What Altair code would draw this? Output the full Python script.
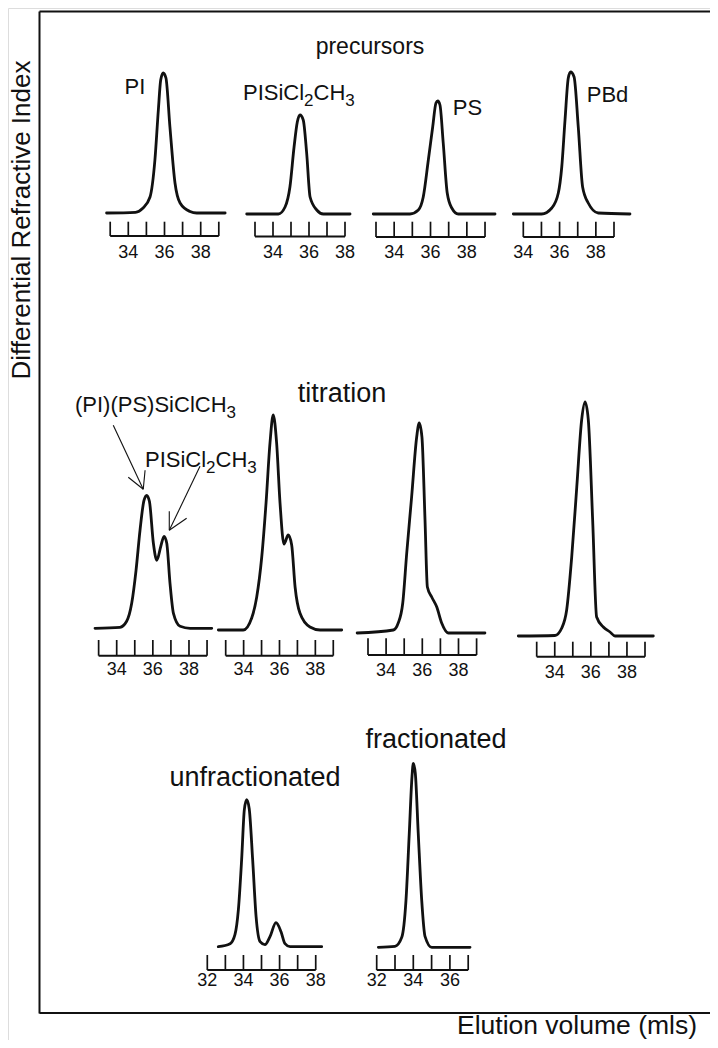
import altair as alt
import pandas as pd

# ---------------- data ----------------
# precursors
PI_ml = [32.8, 34.4, 34.8, 35.2, 35.47, 35.66, 35.79, 35.93, 36.08, 36.3, 36.58, 36.86, 37.41, 37.78, 39.35]
PI_ri = [0, 0.7, 4.7, 16, 53, 103, 133, 140, 135, 86, 30, 10, 1.5, 0, 0]

PIS_ml = [32.54, 34.3, 34.67, 34.94, 35.17, 35.35, 35.5, 35.68, 35.87, 36.06, 36.43, 36.8, 38.28]
PIS_ri = [0, 0, 7, 27, 67, 92, 99, 94, 61, 17, 4, 0, 0]

PS_ml = [32.85, 34.87, 35.33, 35.6, 35.88, 36.12, 36.3, 36.4, 36.52, 36.7, 36.92, 37.17, 37.53, 39.55]
PS_ri = [0, 0, 4, 17, 54, 87, 111, 113, 109, 71, 21, 6, 0, 0]

PBd_ml = [33.45, 35.01, 35.57, 35.93, 36.12, 36.3, 36.48, 36.61, 36.8, 37.03, 37.27, 37.58, 38.13, 39.88]
PBd_ri = [0, 0, 6, 21, 47, 94, 136, 142, 137, 87, 27, 11, 1, 0]

# titration
T1_ml = [32.8, 34.18, 34.55, 34.83, 35.07, 35.29, 35.51, 35.66, 35.81, 36.03, 36.22, 36.44, 36.62, 36.77, 36.95, 37.14, 37.51, 38.06, 39.26]
T1_ri = [0, 1, 7, 25, 58, 98, 128, 133, 127, 85, 68, 82, 92, 85, 45, 15, 2, 0, 0]

T2_ml = [32.59, 33.98, 34.45, 34.73, 35.01, 35.25, 35.47, 35.65, 35.84, 36.03, 36.25, 36.49, 36.68, 36.87, 37.14, 37.7, 38.26, 39.47]
T2_ri = [0, 0, 12, 33, 73, 127, 187, 215, 187, 127, 86, 95, 85, 43, 17, 3, 0, 0]

T3_ml = [32.4, 34.4, 34.67, 34.92, 35.14, 35.41, 35.69, 35.83, 35.98, 36.15, 36.28, 36.52, 36.8, 37.07, 37.44, 39.46]
T3_ri = [0, 3, 10, 30, 80, 136, 196, 210, 196, 113, 46, 36, 26, 10, 0, 0]

T4_ml = [31.98, 34.01, 34.39, 34.66, 34.94, 35.22, 35.49, 35.68, 35.86, 36.1, 36.32, 36.69, 37.06, 37.34, 39.46]
T4_ri = [0, 0.5, 8, 26, 79, 149, 216, 234, 216, 116, 19, 9, 4, 0, 0]

# unfractionated / fractionated
U_ml = [32.61, 33.26, 33.53, 33.72, 33.9, 34.05, 34.18, 34.32, 34.51, 34.7, 34.92, 35.19, 35.47, 35.8, 36.08, 36.3, 36.58, 38.33]
U_ri = [0, 3, 12, 37, 87, 137, 147, 138, 87, 30, 5, 2, 10, 24, 15, 3, 0, 0]

F_ml = [32.09, 33.0, 33.37, 33.6, 33.78, 33.93, 34.0, 34.11, 34.27, 34.46, 34.64, 35.01, 37.1]
F_ri = [0, 1, 10, 47, 114, 171, 184, 174, 114, 47, 11, 0, 0]

# axis ticks and tick labels (ml)
TICKS_33_39 = [33, 34, 35, 36, 37, 38, 39]
TICKS_33_38 = [33, 34, 35, 36, 37, 38]
TICKS_34_39 = [34, 35, 36, 37, 38, 39]
TICKS_32_38 = [32, 33, 34, 35, 36, 37, 38]
TICKS_32_37 = [32, 33, 34, 35, 36, 37]
LABELS_34_38 = [34, 36, 38]
LABELS_32_38 = [32, 34, 36, 38]
LABELS_32_36 = [32, 34, 36]

# text
TITLE_PRE = "precursors"
TITLE_TIT = "titration"
TITLE_UNF = "unfractionated"
TITLE_FRA = "fractionated"
Y_TITLE = "Differential Refractive Index"
X_TITLE = "Elution volume (mls)"
# chemical labels as (text, is_subscript) pieces
CHEM_PISI = [("PISiCl", False), ("2", True), ("CH", False), ("3", True)]
CHEM_PIPS = [("(PI)(PS)SiClCH", False), ("3", True)]

# arrows in the first titration panel (ml, signal): shaft start -> tip, and two wings
ARROW_X = [33.81, 35.47, 34.64, 35.47, 35.57, 35.47, 38.61, 36.91, 36.91, 36.91, 37.87, 36.91]
ARROW_Y = [203, 139, 151, 139, 158, 139, 162, 98, 117, 98, 110, 98]

# ---------------- layout ----------------
M = 8                     # page margin
W, H = 702, 1032
FONT = "Liberation Sans, Arial, Helvetica, sans-serif"
INK = "#111111"
# Helvetica/Arial advance widths (em) for the characters used in chemical labels
ADV = {"P": .667, "I": .278, "S": .667, "i": .222, "C": .722, "l": .222, "H": .722,
       "(": .333, ")": .333, "2": .556, "3": .556}


def panel(ml, ri, ticks, labels, ref_ml, ref_px, ppm, base_y, tick_top, line_y, label_y, extra=None):
    lo, hi = 30, 42
    xs = alt.Scale(domain=[lo, hi], range=[ref_px + (lo - ref_ml) * ppm - M, ref_px + (hi - ref_ml) * ppm - M],
                   nice=False, zero=False)
    ys = alt.Scale(domain=[0, 300], range=[base_y - M, base_y - 300 - M], nice=False, zero=False)
    curve = alt.Chart(pd.DataFrame({"v": ml, "s": ri})).mark_line(
        interpolate="monotone", color=INK, strokeWidth=2.8, strokeCap="round", strokeJoin="round"
    ).encode(x=alt.X("v:Q", scale=xs, axis=None), y=alt.Y("s:Q", scale=ys, axis=None))
    tk = alt.Chart(pd.DataFrame({"v": ticks})).mark_rule(color=INK, strokeWidth=1.7).encode(
        x=alt.X("v:Q", scale=xs, axis=None), y=alt.value(tick_top - M), y2=alt.value(line_y - M))
    br = alt.Chart(pd.DataFrame({"a": [ticks[0]], "b": [ticks[-1]]})).mark_rule(color=INK, strokeWidth=1.9).encode(
        x=alt.X("a:Q", scale=xs, axis=None), x2="b:Q", y=alt.value(line_y - M))
    lb = alt.Chart(pd.DataFrame({"v": labels})).mark_text(
        font=FONT, fontSize=18, color=INK, baseline="middle", align="center"
    ).encode(x=alt.X("v:Q", scale=xs, axis=None), y=alt.value(label_y - M), text=alt.Text("v:Q", format="d"))
    layers = [curve, tk, br, lb]
    if extra is not None:
        layers.append(extra(xs, ys))
    return alt.layer(*layers)


def arrows(xs, ys):
    rows = []
    for k in range(0, len(ARROW_X), 2):
        rows.append({"x": ARROW_X[k], "y": ARROW_Y[k], "x2": ARROW_X[k + 1], "y2": ARROW_Y[k + 1]})
    return alt.Chart(pd.DataFrame(rows)).mark_rule(color=INK, strokeWidth=1.1).encode(
        x=alt.X("x:Q", scale=xs, axis=None), y=alt.Y("y:Q", scale=ys, axis=None), x2="x2:Q", y2="y2:Q")


def text(t, x, y, size, align="center", angle=0, baseline="alphabetic"):
    kw = dict(font=FONT, fontSize=size, color=INK, align=align, baseline=baseline)
    if angle:
        kw["angle"] = angle
    return alt.Chart(pd.DataFrame({"t": [t]})).mark_text(**kw).encode(
        x=alt.value(x - M), y=alt.value(y - M), text="t:N")


def chem(pieces, x, y, size=22, sub_size=17, drop=6, align="left"):
    widths = [sum(ADV[c] for c in s) * (sub_size if sub else size) for s, sub in pieces]
    start = x if align == "left" else x - sum(widths)
    out = []
    for (s, sub), w in zip(pieces, widths):
        out.append(text(s, start, y + (drop if sub else 0), sub_size if sub else size, align="left"))
        start += w
    return out


def hline(x1, x2, y, sw=2.0):
    return alt.Chart(pd.DataFrame({"k": [0]})).mark_rule(color=INK, strokeWidth=sw).encode(
        x=alt.value(x1 - M), x2=alt.value(x2 - M), y=alt.value(y - M))


def vline(x, y1, y2, sw=2.0):
    return alt.Chart(pd.DataFrame({"k": [0]})).mark_rule(color=INK, strokeWidth=sw).encode(
        x=alt.value(x - M), y=alt.value(y1 - M), y2=alt.value(y2 - M))


panels = [
    panel(PI_ml, PI_ri, TICKS_33_39, LABELS_34_38, 34, 128.3, 18.1, 213, 221.7, 236, 253),
    panel(PIS_ml, PIS_ri, TICKS_33_38, LABELS_34_38, 33, 255, 18.0, 214, 221.7, 236.5, 253),
    panel(PS_ml, PS_ri, TICKS_33_39, LABELS_34_38, 33, 376, 18.17, 214, 221.7, 237, 253),
    panel(PBd_ml, PBd_ri, TICKS_34_39, LABELS_34_38, 34, 523.3, 18.14, 214, 221.7, 237, 253),
    panel(T1_ml, T1_ri, TICKS_33_39, LABELS_34_38, 34, 116.7, 18.07, 628.3, 640, 655.7, 670, extra=arrows),
    panel(T2_ml, T2_ri, TICKS_33_39, LABELS_34_38, 33, 225.7, 17.93, 630, 640, 655.7, 670),
    panel(T3_ml, T3_ri, TICKS_33_39, LABELS_34_38, 33, 368, 18.1, 633, 638.3, 655, 671),
    panel(T4_ml, T4_ri, TICKS_33_39, LABELS_34_38, 33, 536.7, 18.05, 636, 641.7, 656.7, 673),
    panel(U_ml, U_ri, TICKS_32_38, LABELS_32_38, 32, 207.3, 18.07, 946.7, 955, 970, 981),
    panel(F_ml, F_ri, TICKS_32_37, LABELS_32_36, 32, 376.7, 18.3, 947.3, 955, 970, 981),
]

decor = [
    vline(39.5, 11.5, 1013.5),
    hline(39.5, 718, 11.5),
    hline(39.5, 718, 1013),
    text(TITLE_PRE, 370, 54, 23),
    text("PI", 135, 93.5, 22),
    *chem(CHEM_PISI, 243, 100),
    text("PS", 467.5, 115, 22),
    text("PBd", 607.5, 101.7, 22),
    text(TITLE_TIT, 342, 402, 27),
    *chem(CHEM_PIPS, 236, 411.7, align="right"),
    *chem(CHEM_PISI, 145, 466.7),
    text(TITLE_UNF, 255, 786, 27),
    text(TITLE_FRA, 436, 748, 27),
    text(Y_TITLE, 22, 220, 26, angle=270, baseline="middle"),
    text(X_TITLE, 577, 1034, 26.5),
]

chart = alt.layer(*panels, *decor).resolve_scale(x="independent", y="independent").properties(
    width=W, height=H, autosize=alt.AutoSizeParams(type="none"), padding=0
).configure_view(strokeWidth=0).configure(background="white")

chart.save("out.html", embed_options={"renderer": "svg", "actions": False})
